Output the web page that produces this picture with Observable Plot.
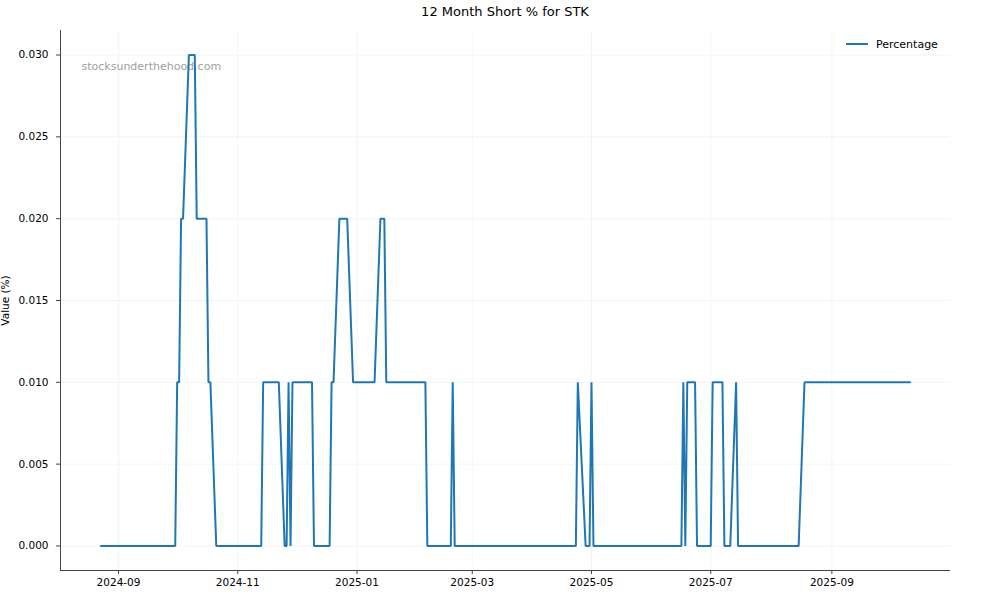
<!DOCTYPE html>
<html>
<head>
<meta charset="utf-8">
<script src="https://cdn.jsdelivr.net/npm/d3@7"></script>
<script src="https://cdn.jsdelivr.net/npm/@observablehq/plot@0.6"></script>
<style>
  html, body { margin: 0; padding: 0; background: white; }
  body { width: 1000px; height: 600px; position: relative; overflow: hidden; font-family: "DejaVu Sans", sans-serif; }
  #title { height: 24px; line-height: 24px; font-size: 13px; text-align: center; padding-left: 10px; color: #000; }
  #legend { position: absolute; left: 838px; top: 34px; height: 20px; padding: 0 8px; background: rgba(255,255,255,0.8);
            display: flex; align-items: center; font-size: 11px; color: #000; }
  #legend svg { margin-right: 8px; }
</style>
</head>
<body>
<div id="title">12 Month Short % for STK</div>
<div id="chart"></div>
<div id="legend"><svg width="22" height="4"><line x1="0" y1="2" x2="22" y2="2" stroke="#1f77b4" stroke-width="2"/></svg><span>Percentage</span></div>
<script>
const dates = [
  "2024-08-23","2024-09-30","2024-10-01","2024-10-02","2024-10-03","2024-10-04","2024-10-07","2024-10-10",
  "2024-10-11","2024-10-16","2024-10-17","2024-10-18","2024-10-21","2024-11-13","2024-11-14","2024-11-22",
  "2024-11-25","2024-11-26","2024-11-27","2024-11-28","2024-11-29","2024-12-09","2024-12-10","2024-12-18",
  "2024-12-19","2024-12-20","2024-12-23","2024-12-27","2024-12-30","2025-01-10","2025-01-13","2025-01-15",
  "2025-01-16","2025-02-05","2025-02-06","2025-02-18","2025-02-19","2025-02-20","2025-04-23","2025-04-24",
  "2025-04-28","2025-04-30","2025-05-01","2025-05-02","2025-06-16","2025-06-17","2025-06-18","2025-06-19",
  "2025-06-23","2025-06-24","2025-07-01","2025-07-02","2025-07-07","2025-07-08","2025-07-11","2025-07-14",
  "2025-07-15","2025-08-15","2025-08-18","2025-10-11"
];
const percentage = [
  0, 0, 0.01, 0.01, 0.02, 0.02, 0.03, 0.03,
  0.02, 0.02, 0.01, 0.01, 0, 0, 0.01, 0.01,
  0, 0, 0.01, 0, 0.01, 0.01, 0, 0,
  0.01, 0.01, 0.02, 0.02, 0.01, 0.01, 0.02, 0.02,
  0.01, 0.01, 0, 0, 0.01, 0, 0, 0.01,
  0, 0, 0.01, 0, 0, 0.01, 0, 0.01,
  0.01, 0, 0, 0.01, 0.01, 0, 0, 0.01,
  0, 0, 0.01, 0.01
];
const xTickDates = ["2024-09-01","2024-11-01","2025-01-01","2025-03-01","2025-05-01","2025-07-01","2025-09-01"];
const yTickValues = [0, 0.005, 0.01, 0.015, 0.02, 0.025, 0.03];

const data = dates.map((d, i) => ({date: new Date(d + "T00:00:00Z"), value: percentage[i]}));
const xTicks = xTickDates.map(d => new Date(d + "T00:00:00Z"));

// matplotlib-style 5% margins
const [x0, x1] = d3.extent(data, d => d.date);
const xpad = (x1 - x0) * 0.05;
const xDomain = [new Date(+x0 - xpad), new Date(+x1 + xpad)];
const [y0, y1] = d3.extent(data, d => d.value);
const ypad = (y1 - y0) * 0.05;
const yDomain = [y0 - ypad, y1 + ypad];

const spine = "#444";
const gridColor = "#ececec";

const chart = Plot.plot({
  width: 1000,
  height: 576,
  marginLeft: 60,
  marginRight: 50,
  marginTop: 6,
  marginBottom: 30,
  style: {fontFamily: "DejaVu Sans", fontSize: "10.5px", color: "#000", background: "white", overflow: "visible"},
  x: {type: "utc", domain: xDomain},
  y: {domain: yDomain},
  marks: [
    Plot.gridX(xTicks, {stroke: gridColor, strokeOpacity: 0.6}),
    Plot.gridY(yTickValues, {stroke: gridColor, strokeOpacity: 0.6}),
    Plot.text(["stocksunderthehood.com"], {frameAnchor: "top-left", dx: 21, dy: 36, lineAnchor: "middle", textAnchor: "start", fill: "#a0a0a0", fontSize: 11}),
    Plot.line(data, {x: "date", y: "value", stroke: "#1f77b4", strokeWidth: 2, strokeLinejoin: "miter"}),
    Plot.ruleX([xDomain[0]], {stroke: spine, strokeWidth: 1}),
    Plot.ruleY([yDomain[0]], {stroke: spine, strokeWidth: 1}),
    Plot.axisX(xTicks, {tickFormat: d3.utcFormat("%Y-%m"), tickSize: 4, tickPadding: 4, stroke: spine, label: null}),
    Plot.axisY(yTickValues, {tickFormat: d3.format(".3f"), tickSize: 4, tickPadding: 8, stroke: spine, label: null}),
    Plot.text(["Value (%)"], {frameAnchor: "left", dx: -55, rotate: -90, textAnchor: "middle", fill: "#000", fontSize: 10.5})
  ]
});
document.getElementById("chart").appendChild(chart);
</script>
</body>
</html>
